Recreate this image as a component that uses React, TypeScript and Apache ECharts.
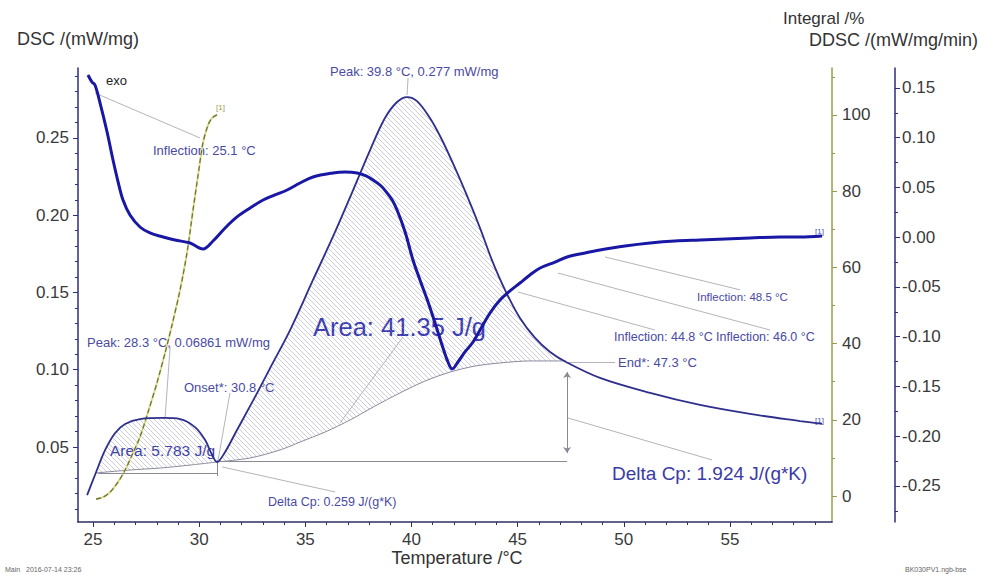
import React, { useEffect, useRef } from 'react';
import * as echarts from 'echarts';

// ---- data ----
const tDsc = [24.72, 25.09, 25.57, 26.04, 26.51, 27.21, 28.30, 29.10, 29.80, 30.28, 30.61, 30.84, 31.22, 31.78, 32.63, 33.34, 34.28, 35.36, 36.40, 37.25, 38.05, 38.75, 39.32, 39.79, 40.26, 40.87, 41.44, 42.05, 42.62, 43.23, 43.79, 44.41, 45.11, 45.82, 46.53, 47.28, 48.88, 51.24, 53.59, 55.95, 58.30, 59.34];
const dsc = [0.0189, 0.0319, 0.0481, 0.0591, 0.0649, 0.0681, 0.0688, 0.0681, 0.0629, 0.0545, 0.0448, 0.0403, 0.0468, 0.0610, 0.0824, 0.1011, 0.1257, 0.1581, 0.1892, 0.2163, 0.2422, 0.2629, 0.2733, 0.2765, 0.2739, 0.2629, 0.2487, 0.2306, 0.2125, 0.1917, 0.1710, 0.1516, 0.1335, 0.1206, 0.1115, 0.1050, 0.0947, 0.0850, 0.0772, 0.0714, 0.0668, 0.0649];

const tDdsc = [24.76, 24.95, 25.09, 25.33, 25.66, 25.94, 26.18, 26.41, 26.74, 27.21, 27.68, 28.30, 28.86, 29.57, 30.18, 30.65, 31.22, 31.78, 32.40, 33.01, 33.57, 34.14, 34.75, 35.36, 36.30, 36.87, 37.44, 37.86, 38.19, 38.57, 38.85, 39.09, 39.32, 39.70, 40.07, 40.40, 40.78, 41.11, 41.44, 41.72, 41.91, 42.19, 42.52, 42.90, 43.23, 43.70, 44.17, 44.64, 45.11, 45.58, 46.06, 46.76, 47.33, 48.17, 48.88, 50.06, 51.24, 52.41, 53.59, 54.77, 55.95, 57.36, 58.30, 59.34];
const ddsc = [0.1631, 0.1560, 0.1530, 0.1349, 0.1058, 0.0776, 0.0555, 0.0374, 0.0224, 0.0103, 0.0043, 0.0003, -0.0028, -0.0058, -0.0118, -0.0038, 0.0093, 0.0204, 0.0294, 0.0374, 0.0425, 0.0475, 0.0545, 0.0606, 0.0646, 0.0656, 0.0646, 0.0616, 0.0575, 0.0515, 0.0445, 0.0374, 0.0274, 0.0053, -0.0229, -0.0430, -0.0651, -0.0862, -0.1083, -0.1254, -0.1324, -0.1254, -0.1153, -0.1053, -0.0932, -0.0761, -0.0631, -0.0540, -0.0460, -0.0379, -0.0309, -0.0249, -0.0198, -0.0158, -0.0128, -0.0088, -0.0058, -0.0038, -0.0028, -0.0018, -0.0008, 0.0003, 0.0003, 0.0013];

const tInt = [25.14, 25.47, 25.80, 26.18, 26.51, 26.84, 27.21, 27.59, 28.01, 28.39, 28.72, 29.10, 29.43, 29.71, 29.95, 30.18, 30.42, 30.61, 30.84];
const integral = [-0.8, -0.3, 1.0, 3.7, 6.8, 10.8, 15.5, 22.0, 29.7, 37.5, 44.9, 54.1, 64.0, 75.1, 84.3, 92.7, 97.4, 99.2, 100.0];

const tBase1 = [25.14, 26.74, 28.16, 29.57, 30.84];
const base1 = [0.0332, 0.0351, 0.0364, 0.0383, 0.0403];

const tBase2 = [30.84, 32.40, 33.81, 34.75, 35.93, 37.11, 38.28, 39.46, 40.64, 41.82, 42.99, 44.17, 45.58, 47.28];
const base2 = [0.0403, 0.0429, 0.0481, 0.0532, 0.0597, 0.0675, 0.0765, 0.0850, 0.0927, 0.0985, 0.1024, 0.1044, 0.1057, 0.1057];

const xTicks = [25, 30, 35, 40, 45, 50, 55];
const dscTicks = [0.05, 0.10, 0.15, 0.20, 0.25];
const intTicks = [0, 20, 40, 60, 80, 100];
const ddscTicks = [-0.25, -0.20, -0.15, -0.10, -0.05, 0.0, 0.05, 0.10, 0.15];

// annotation leader lines (temperature, DSC)
const leaderLines: number[][][] = [
  [[25.09, 0.2791], [30.04, 0.25]],
  [[28.63, 0.1147], [28.39, 0.0688]],
  [[31.45, 0.0850], [30.89, 0.0416]],
  [[39.84, 0.2888], [39.79, 0.2778]],
  [[39.60, 0.1212], [36.63, 0.0655]],
  [[31.08, 0.0371], [36.40, 0.0209]],
  [[47.37, 0.0688], [54.16, 0.0416]],
  [[47.28, 0.1050], [49.59, 0.1050]],
  [[45.02, 0.1503], [51.47, 0.1257]],
  [[46.90, 0.1626], [56.89, 0.1257]],
  [[49.12, 0.1730], [55.48, 0.1517]],
];
const bracketLines: number[][][] = [
  [[30.84, 0.0409], [47.33, 0.0409]],
  [[25.24, 0.0332], [30.84, 0.0332]],
  [[30.84, 0.0416], [30.84, 0.0312]],
];
const dcpArrow: number[][] = [[47.33, 0.0985], [47.33, 0.0461]];

const FONT = 'Liberation Sans, Arial, Helvetica, sans-serif';

function range(a: number, b: number, step: number, skip: number[]) {
  const out: number[] = [];
  for (let v = a; v <= b + 1e-9; v += step) {
    const r = Math.round(v * 1000) / 1000;
    if (!skip.some((s) => Math.abs(s - r) < 1e-6)) out.push(r);
  }
  return out;
}

export default function App() {
  const ref = useRef<HTMLDivElement>(null);
  useEffect(() => {
    if (!ref.current) return;
    const chart = echarts.init(ref.current, undefined, { renderer: 'svg' });

    const S = 5;
    const cv = document.createElement('canvas');
    cv.width = S;
    cv.height = S;
    const ctx = cv.getContext('2d');
    if (ctx) {
      ctx.strokeStyle = 'rgba(135,135,165,0.6)';
      ctx.lineWidth = 0.7;
      ctx.beginPath();
      ctx.moveTo(-1, -1); ctx.lineTo(S + 1, S + 1);
      ctx.moveTo(-1, S - 1); ctx.lineTo(1, S + 1);
      ctx.moveTo(S - 1, -1); ctx.lineTo(S + 1, 1);
      ctx.stroke();
    }
    const hatch: any = { image: cv, repeat: 'repeat' };

    const dscPts = tDsc.map((t, i) => [t, dsc[i]]);
    const smallRegion = dscPts
      .filter((p) => p[0] >= 25.09 && p[0] <= 30.84)
      .concat(tBase1.map((t, i) => [t, base1[i]]).reverse());
    const bigRegion = dscPts
      .filter((p) => p[0] >= 30.84 && p[0] <= 47.28)
      .concat(tBase2.map((t, i) => [t, base2[i]]).reverse());

    const xMin = 24.29, xMax = 59.81;
    const dMin = 0.00146, dMax = 0.2953;
    const iMin = -6.82, iMax = 112.3;
    const ddMin = -0.2862, ddMax = 0.1701;

    const axisLabelBase = { fontSize: 17, color: '#3a3a3a', fontFamily: FONT };

    const annText = (x: number, y: number, text: string, size = 13, color = '#4a4aa2') => ({
      type: 'text',
      x,
      y,
      silent: true,
      style: { text, fontSize: size, fill: color, fontFamily: FONT, verticalAlign: 'middle', align: 'left' },
    });

    const lineMark = (pairs: number[][][]) =>
      pairs.map((p) => [{ coord: p[0] }, { coord: p[1] }]);

    const option: any = {
      animation: false,
      backgroundColor: '#ffffff',
      grid: { left: 78, right: 154, top: 68, bottom: 53, containLabel: false },
      xAxis: [
        {
          type: 'value', min: xMin, max: xMax, position: 'bottom',
          axisLine: { show: true, onZero: false, lineStyle: { color: '#2e2e66', width: 1.5 } },
          axisTick: { show: true, customValues: xTicks, length: 5, lineStyle: { color: '#2e2e66' } },
          axisLabel: { ...axisLabelBase, customValues: xTicks, margin: 9 },
          splitLine: { show: false },
        },
        {
          type: 'value', min: xMin, max: xMax, position: 'bottom',
          axisLine: { show: false, onZero: false },
          axisTick: { show: true, customValues: range(25, 59, 1, xTicks), length: 3, lineStyle: { color: '#2e2e66' } },
          axisLabel: { show: false },
          splitLine: { show: false },
        },
      ],
      yAxis: [
        {
          type: 'value', min: dMin, max: dMax, position: 'left',
          axisLine: { show: true, onZero: false, lineStyle: { color: '#2c2c88', width: 1.5 } },
          axisTick: { show: true, customValues: dscTicks, length: 5, lineStyle: { color: '#2c2c88' } },
          axisLabel: { ...axisLabelBase, customValues: dscTicks, margin: 9, formatter: (v: number) => v.toFixed(2) },
          splitLine: { show: false },
        },
        {
          type: 'value', min: dMin, max: dMax, position: 'left', offset: 0,
          axisLine: { show: false, onZero: false },
          axisTick: { show: true, customValues: range(0.01, 0.29, 0.01, dscTicks), length: 3, lineStyle: { color: '#2c2c88' } },
          axisLabel: { show: false },
          splitLine: { show: false },
        },
        {
          type: 'value', min: iMin, max: iMax, position: 'right', offset: 0,
          axisLine: { show: true, onZero: false, lineStyle: { color: '#9a9a4e', width: 1.5 } },
          axisTick: { show: true, customValues: intTicks, length: 5, lineStyle: { color: '#9a9a4e' } },
          axisLabel: { ...axisLabelBase, customValues: intTicks, margin: 10 },
          splitLine: { show: false },
        },
        {
          type: 'value', min: iMin, max: iMax, position: 'right', offset: 0,
          axisLine: { show: false, onZero: false },
          axisTick: { show: true, customValues: [10, 30, 50, 70, 90, 110], length: 3, lineStyle: { color: '#9a9a4e' } },
          axisLabel: { show: false },
          splitLine: { show: false },
        },
        {
          type: 'value', min: ddMin, max: ddMax, position: 'right', offset: 63,
          axisLine: { show: true, onZero: false, lineStyle: { color: '#2c2c80', width: 1.5 } },
          axisTick: { show: true, customValues: ddscTicks, length: 5, lineStyle: { color: '#2c2c80' } },
          axisLabel: { ...axisLabelBase, customValues: ddscTicks, margin: 7, formatter: (v: number) => v.toFixed(2) },
          splitLine: { show: false },
        },
        {
          type: 'value', min: ddMin, max: ddMax, position: 'right', offset: 63,
          axisLine: { show: false, onZero: false },
          axisTick: { show: true, customValues: [-0.275, -0.225, -0.175, -0.125, -0.075, -0.025, 0.025, 0.075, 0.125], length: 3, lineStyle: { color: '#2c2c80' } },
          axisLabel: { show: false },
          splitLine: { show: false },
        },
      ],
      series: [
        {
          type: 'custom',
          name: 'areas',
          xAxisIndex: 0,
          yAxisIndex: 0,
          silent: true,
          z: 1,
          data: [[30, 0.05], [40, 0.1]],
          renderItem: (params: any, api: any) => {
            const poly = params.dataIndex === 0 ? smallRegion : bigRegion;
            const points = poly.map((p) => api.coord(p));
            return { type: 'polygon', shape: { points }, style: { fill: hatch, stroke: 'none' } };
          },
        },
        {
          type: 'line', name: 'baseline1', xAxisIndex: 0, yAxisIndex: 0, z: 2,
          data: tBase1.map((t, i) => [t, base1[i]]),
          showSymbol: false, symbol: 'none', smooth: 0.3,
          lineStyle: { color: '#8a8aa0', width: 1 },
          markLine: {
            silent: true, symbol: ['none', 'none'], label: { show: false },
            lineStyle: { color: '#b4b4bc', width: 1, type: 'solid' },
            data: lineMark(leaderLines),
          },
        },
        {
          type: 'line', name: 'baseline2', xAxisIndex: 0, yAxisIndex: 0, z: 2,
          data: tBase2.map((t, i) => [t, base2[i]]),
          showSymbol: false, symbol: 'none', smooth: 0.3,
          lineStyle: { color: '#8a8aa0', width: 1 },
          markLine: {
            silent: true, symbol: ['none', 'none'], label: { show: false },
            lineStyle: { color: '#8a8a96', width: 1, type: 'solid' },
            data: lineMark(bracketLines).concat([
              [
                { coord: dcpArrow[0], symbol: 'arrow', symbolSize: 6 } as any,
                { coord: dcpArrow[1], symbol: 'arrow', symbolSize: 6 } as any,
              ],
            ]),
          },
        },
        {
          type: 'line', name: 'Integral light', xAxisIndex: 0, yAxisIndex: 2, z: 3,
          data: tInt.map((t, i) => [t, integral[i]]),
          showSymbol: false, symbol: 'none', smooth: 0.3,
          lineStyle: { color: '#d8dc8c', width: 2 },
        },
        {
          type: 'line', name: 'Integral', xAxisIndex: 0, yAxisIndex: 2, z: 4,
          data: tInt.map((t, i) => [t, integral[i]]),
          showSymbol: false, symbol: 'none', smooth: 0.3,
          lineStyle: { color: '#6e6e34', width: 1.2, type: [5, 3] },
        },
        {
          type: 'line', name: 'DSC', xAxisIndex: 0, yAxisIndex: 0, z: 5,
          data: dscPts,
          showSymbol: false, symbol: 'none', smooth: 0.35,
          lineStyle: { color: '#2e2e8c', width: 1.8 },
        },
        {
          type: 'line', name: 'DDSC', xAxisIndex: 0, yAxisIndex: 4, z: 6,
          data: tDdsc.map((t, i) => [t, ddsc[i]]),
          showSymbol: false, symbol: 'none', smooth: 0.35,
          lineStyle: { color: '#1818a4', width: 3 },
        },
      ],
      graphic: [
        annText(17, 39, 'DSC /(mW/mg)', 18, '#333333'),
        annText(783, 18, 'Integral /%', 17, '#333333'),
        annText(809, 40, 'DDSC /(mW/mg/min)', 18, '#333333'),
        { type: 'text', x: 457, y: 558, silent: true, style: { text: 'Temperature /°C', fontSize: 18, fill: '#333333', fontFamily: FONT, align: 'center', verticalAlign: 'middle' } },
        annText(106, 80, 'exo', 13, '#222222'),
        annText(153, 150, 'Inflection: 25.1 °C'),
        annText(330, 71, 'Peak: 39.8 °C, 0.277 mW/mg'),
        annText(87, 342, 'Peak: 28.3 °C, 0.06861 mW/mg'),
        annText(184, 387, 'Onset*: 30.8 °C'),
        annText(110, 450, 'Area: 5.783 J/g', 15.5, '#3c3ca8'),
        annText(313, 327, 'Area: 41.35 J/g', 25.5, '#3a3ab4'),
        annText(268, 502, 'Delta Cp: 0.259 J/(g*K)', 12.5),
        annText(612, 473, 'Delta Cp: 1.924 J/(g*K)', 19, '#3a3aa6'),
        annText(618, 362, 'End*: 47.3 °C', 13),
        annText(614, 337, 'Inflection: 44.8 °C', 12.5),
        annText(716, 337, 'Inflection: 46.0 °C', 12.5),
        annText(697, 297, 'Inflection: 48.5 °C', 11.5),
        annText(815, 231, '[1]', 8, '#4a4ab0'),
        annText(815, 420, '[1]', 8, '#4a4ab0'),
        annText(216, 107, '[1]', 8, '#9a9a4e'),
        annText(5, 569, 'Main   2016-07-14 23:26', 7, '#666666'),
        annText(905, 569, 'BK030PV1.ngb-bse', 7, '#666666'),
      ],
    };

    chart.setOption(option);
    return () => chart.dispose();
  }, []);

  return (
    <div
      ref={ref}
      style={{ position: 'absolute', left: 0, top: 0, width: 986, height: 575, background: '#fff' }}
    />
  );
}
